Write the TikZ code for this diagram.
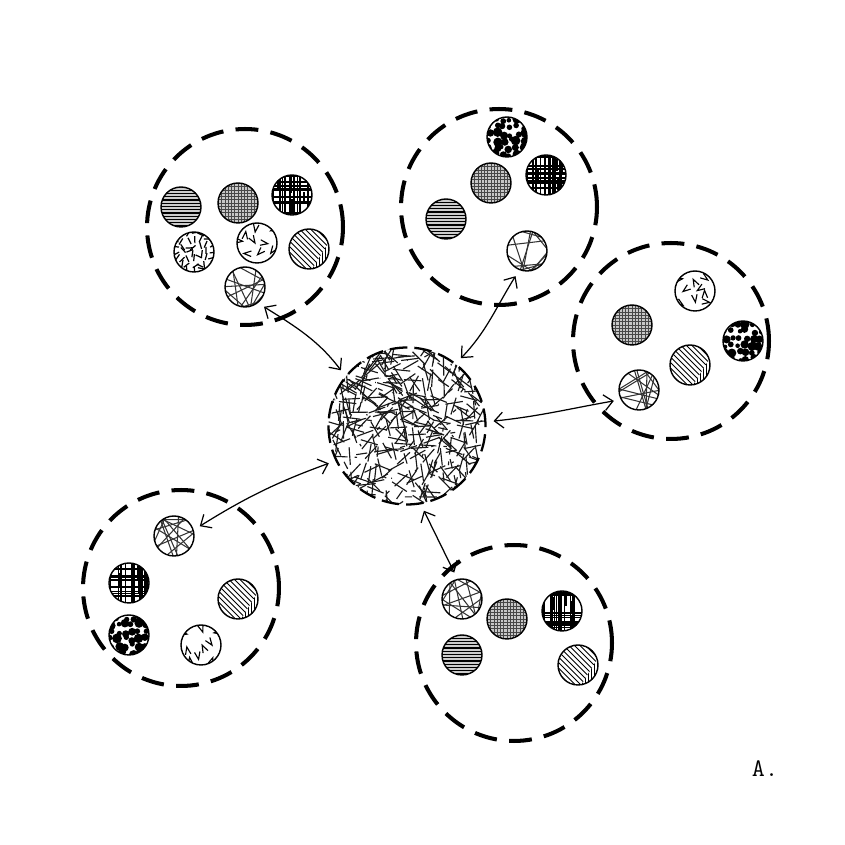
\documentclass[tikz,border=0pt]{standalone}
\usepackage{tikz}
\usetikzlibrary{arrows.meta}
\tikzset{
  cluster/.style={circle, draw, line width=2.3pt, dash pattern=on 13pt off 7pt, minimum size=3.92cm, inner sep=0pt},
  ball/.style={circle, draw, fill=white, line width=0.8pt, minimum size=0.8cm, inner sep=0pt},
  inball/.style={shift={(path picture bounding box.center)}, x=1cm, y=1cm},
  link/.style={<->, line width=0.7pt, shorten <=4pt, shorten >=4pt},
  % horizontal stripes
  ballstripe/.style={ball, fill=gray!40, path picture={
    \begin{scope}[inball]
      \foreach \h in {-0.38,-0.315,...,0.4}
        \draw[line width=0.75pt] (-0.5,\h) -- (0.5,\h);
    \end{scope}}},
  % fine grey grid
  ballgrid/.style={ball, fill=gray!45, path picture={
    \begin{scope}[inball]
      \draw[gray!55!black, line width=0.3pt, step=0.065] (-0.5,-0.5) grid (0.5,0.5);
    \end{scope}}},
  % black plaid
  ballplaid/.style={ball, path picture={
    \begin{scope}[inball]
      \foreach \i in {1,...,13}{
        \pgfmathsetmacro{\sx}{rnd*0.8-0.4}
        \pgfmathsetmacro{\wa}{0.3+rnd*1.1}
        \draw[line width=\wa pt] (\sx,-0.5) -- (\sx,0.5);
        \pgfmathsetmacro{\sy}{rnd*0.8-0.4}
        \pgfmathsetmacro{\wb}{0.3+rnd*1.1}
        \draw[line width=\wb pt] (-0.5,\sy) -- (0.5,\sy);
      }
      \foreach \i in {1,...,5}{
        \pgfmathsetmacro{\sx}{rnd*0.6-0.3}
        \pgfmathsetmacro{\sy}{rnd*0.6-0.4}
        \fill[black] (\sx,\sy) rectangle ++(0.045,0.25);
      }
    \end{scope}}},
  % short dashes
  balldash/.style={ball, path picture={
    \begin{scope}[inball]
      \foreach \gx in {-0.36,-0.24,...,0.37}
        \foreach \gy in {-0.36,-0.24,...,0.37}{
          \pgfmathsetmacro{\sx}{\gx+rnd*0.08-0.04}
          \pgfmathsetmacro{\sy}{\gy+rnd*0.08-0.04}
          \pgfmathsetmacro{\ang}{rnd*360}
          \draw[line width=0.7pt] (\sx,\sy) ++(\ang:-0.07) -- ++(\ang:0.14);
        }
    \end{scope}}},
  % little chevrons
  ballchev/.style={ball, path picture={
    \begin{scope}[inball]
      \foreach \gx in {-0.24,0,0.24}
        \foreach \gy in {-0.24,0,0.24}{
          \pgfmathsetmacro{\sx}{\gx+rnd*0.1-0.05}
          \pgfmathsetmacro{\sy}{\gy+rnd*0.1-0.05}
          \pgfmathsetmacro{\ang}{rnd*360}
          \draw[line width=0.65pt] (\sx,\sy) ++(\ang:0.16) -- (\sx,\sy) -- ++(\ang+40:0.16);
        }
    \end{scope}}},
  % diagonal and vertical lines
  balldiag/.style={ball, path picture={
    \begin{scope}[inball]
      \begin{scope}
        \clip (-0.5,0.5) -- (0.5,0.5) -- (0.5,0.3) -- (0,-0.5) -- (-0.5,-0.5) -- cycle;
        \foreach \k in {-1,-0.89,...,1}
          \draw[line width=0.5pt] (\k-0.5,0.5) -- (\k+0.5,-0.5);
      \end{scope}
      \begin{scope}
        \clip (0.5,0.3) -- (0.5,-0.5) -- (0,-0.5) -- cycle;
        \foreach \k in {-0.1,-0.04,...,0.5}
          \draw[line width=0.5pt] (\k,-0.5) -- (\k,0.5);
      \end{scope}
    \end{scope}}},
  % random web of chords
  ballweb/.style={ball, path picture={
    \begin{scope}[inball]
      \foreach \i in {1,...,12}{
        \pgfmathsetmacro{\ang}{\i*15+rnd*20}
        \pgfmathsetmacro{\off}{rnd*0.8-0.4}
        \draw[black!80, line width=0.6pt] (\ang+90:\off) ++(\ang:-0.6) -- ++(\ang:1.2);
      }
    \end{scope}}},
  % black spots
  ballspot/.style={ball, path picture={
    \begin{scope}[inball]
      \foreach \gx in {-0.36,-0.22,...,0.37}
        \foreach \gy in {-0.36,-0.22,...,0.37}{
          \pgfmathsetmacro{\sx}{\gx+rnd*0.08-0.04}
          \pgfmathsetmacro{\sy}{\gy+rnd*0.08-0.04}
          \pgfmathsetmacro{\rr}{0.045+rnd*0.055}
          \fill[black] (\sx,\sy) circle (\rr);
        }
    \end{scope}}},
  % the big tangle in the middle
  core/.style={circle, draw, line width=1.3pt, dash pattern=on 10pt off 4pt, minimum size=3.14cm, inner sep=0pt, path picture={
    \begin{scope}[inball]
      \foreach \i in {1,...,270}{
        \pgfmathsetmacro{\sx}{rnd*3.2-1.6}
        \pgfmathsetmacro{\sy}{rnd*3.2-1.6}
        \pgfmathsetmacro{\ang}{rnd*360}
        \pgfmathsetmacro{\len}{0.5+rnd*0.6}
        \draw[black!90, line width=0.65pt] (\sx,\sy) -- ++(\ang:\len);
      }
    \end{scope}}}
}

\begin{document}
\begin{tikzpicture}[x=0.02cm, y=0.02cm, >={Straight Barb[length=5pt,width=9pt]}]
    \pgfmathsetseed{4}
    \useasboundingbox (0,0) rectangle (845,845);

    % Dashed groups
    \node[cluster] (tl) at (245,618) {};
    \node[cluster] (tm) at (499,638) {};
    \node[cluster] (rt) at (671,504) {};
    \node[cluster] (bl) at (181,257) {};
    \node[cluster] (bm) at (514,202) {};

    % Centre
    \node[core] (core) at (407,419) {};

    % Top-left group
    \node[ballstripe] (tlstripe) at (181,638) {};
    \node[ballgrid] (tlgrid) at (238,642) {};
    \node[ballplaid] (tlplaid) at (292,650) {};
    \node[balldash] (tldash) at (194,593) {};
    \node[ballchev] (tlchev) at (257,602) {};
    \node[balldiag] (tldiag) at (309,596) {};
    \node[ballweb] (tlweb) at (245,558) {};

    % Top-middle group
    \node[ballspot] (tmspot) at (507,708) {};
    \node[ballgrid] (tmgrid) at (491,662) {};
    \node[ballplaid] (tmplaid) at (546,670) {};
    \node[ballstripe] (tmstripe) at (446,626) {};
    \node[ballweb] (tmweb) at (527,594) {};

    % Right group
    \node[ballchev] (rtchev) at (695,554) {};
    \node[ballgrid] (rtgrid) at (632,520) {};
    \node[ballspot] (rtspot) at (743,504) {};
    \node[balldiag] (rtdiag) at (690,480) {};
    \node[ballweb] (rtweb) at (639,455) {};

    % Bottom-left group
    \node[ballweb] (blweb) at (174,309) {};
    \node[ballplaid] (blplaid) at (129,262) {};
    \node[balldiag] (bldiag) at (238,246) {};
    \node[ballspot] (blspot) at (129,210) {};
    \node[ballchev] (blchev) at (201,200) {};

    % Bottom group
    \node[ballweb] (bmweb) at (462,246) {};
    \node[ballgrid] (bmgrid) at (507,226) {};
    \node[ballplaid] (bmplaid) at (562,234) {};
    \node[ballstripe] (bmstripe) at (462,190) {};
    \node[balldiag] (bmdiag) at (578,180) {};

    % Links
    \draw[link] (core.141) to[out=127, in=-32] (tlweb.309);
    \draw[link] (core.52) to[out=46, in=238] (tmweb.248);
    \draw[link] (core.3) to[out=6, in=190] (rtweb.208);
    \draw[link] (core.206) to[out=200, in=32] (blweb.17);
    \draw[link] (core.280) -- (bmweb.103);

    \node[font=\ttfamily\Large] (tag) at (765,76) {A.};
\end{tikzpicture}
\end{document}
